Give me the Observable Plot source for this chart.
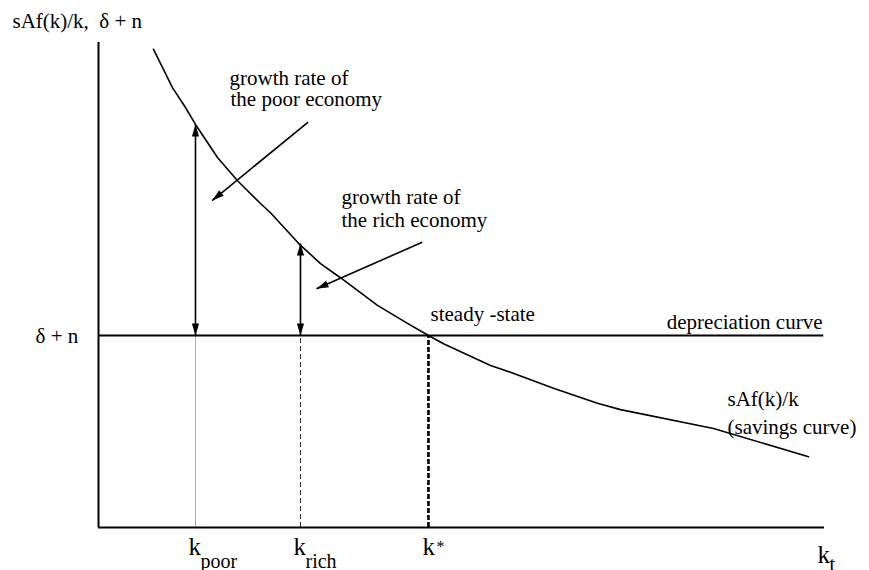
<!DOCTYPE html>
<html>
<head>
<meta charset="utf-8">
<script src="https://cdn.jsdelivr.net/npm/d3@7"></script>
<script src="https://cdn.jsdelivr.net/npm/@observablehq/plot@0.6"></script>
<style>
  html, body { margin: 0; padding: 0; background: #fff; }
  svg { display: block; }
  svg text { font-family: "Liberation Serif", "Times New Roman", "DejaVu Serif", serif !important; }
</style>
</head>
<body>
<div id="chart"></div>
<script>
// ---- data (abstract units: k on x 0..100, rate on y 0..100) ----
const curveK = [7.58, 10.19, 11.98, 13.36, 16.39, 19.15, 22.31, 23.69, 27.55, 30.58, 33.33, 38.43, 42.56, 45.45, 47.52, 54.0, 56.75, 62.67, 68.73, 71.9, 84.71, 97.8];
const curveS = [98.6, 90.7, 86.6, 83.1, 76.3, 71.5, 66.8, 64.9, 58.6, 54.4, 51.5, 45.8, 42.1, 39.6, 37.9, 33.4, 32.0, 28.7, 25.6, 24.3, 20.4, 14.6];
const depreciation = 39.6;
const axisEnd = 100;
const deprEnd = 99.9;
const kNames = ["poor", "rich", "star"];
const kValues = [13.36, 27.82, 45.45];
const growthTops = [83.1, 58.56];      // savings curve at k_poor, k_rich
// pointer arrows (from label to region)
const pointerFromX = [28.88, 44.59];
const pointerFromY = [83.57, 58.82];
const pointerToX = [15.66, 30.03];
const pointerToY = [67.42, 49.22];

// labels
const startText = ["sAf(k)/k,  δ + n", "δ + n", "growth rate of", "the poor economy", "growth rate of", "the rich economy", "steady -state", "sAf(k)/k", "(savings curve)", "k", "k", "k", "k"];
const startX = [-11.85, -8.68, 18.04, 18.18, 33.47, 33.47, 45.73, 86.64, 86.64, 12.40, 26.86, 44.63, 99.04];
const startY = [102.89, 38.14, 91.34, 86.95, 66.8, 61.86, 42.68, 24.95, 19.38, -5.77, -5.77, -5.77, -7.42];
const startSize = [21, 21, 21, 21, 21, 21, 21, 21, 21, 25, 25, 25, 25];
const subText = ["poor", "rich", "*", "t"];
const subX = [14.05, 28.51, 46.56, 100.69];
const subY = [-8.25, -8.25, -4.95, -8.9];
const subSize = [20, 20, 16, 20];
const endText = ["depreciation curve"];
const endX = [99.72];
const endY = [41.03];

// ---- layout ----
const W = 869, H = 570, mL = 98, mR = 45, mT = 42, mB = 43;
const pxX = (W - mL - mR) / 100, pxY = (H - mT - mB) / 100;
const angle = (x1, y1, x2, y2) => {
  const dx = (x2 - x1) * pxX, dy = -(y2 - y1) * pxY;
  return Math.atan2(dx, -dy) * 180 / Math.PI;
};
const head = {
  draw(ctx) {
    ctx.moveTo(0, 0);
    ctx.lineTo(-3.6, 12);
    ctx.lineTo(3.6, 12);
    ctx.closePath();
  }
};

const curve = curveK.map((k, i) => ({k, s: curveS[i]}));
const kLines = kNames.map((n, i) => ({n, k: kValues[i]}));
const growth = growthTops.map((t, i) => ({k: kValues[i], lo: depreciation, hi: t}));
const pointers = pointerFromX.map((x, i) => ({x1: x, y1: pointerFromY[i], x2: pointerToX[i], y2: pointerToY[i]}));
const heads = [
  ...growth.map(g => ({x: g.k, y: g.hi, r: 0})),
  ...growth.map(g => ({x: g.k, y: g.lo, r: 180})),
  ...pointers.map(p => ({x: p.x2, y: p.y2, r: angle(p.x1, p.y1, p.x2, p.y2)}))
];
const startLabels = startText.map((t, i) => ({t, x: startX[i], y: startY[i], s: startSize[i]}));
const subLabels = subText.map((t, i) => ({t, x: subX[i], y: subY[i], s: subSize[i]}));
const endLabels = endText.map((t, i) => ({t, x: endX[i], y: endY[i]}));

const font = "Liberation Serif, Times New Roman, DejaVu Serif, serif";

const chart = Plot.plot({
  width: W, height: H,
  marginLeft: mL, marginRight: mR, marginTop: mT, marginBottom: mB,
  x: {domain: [0, 100], axis: null},
  y: {domain: [0, 100], axis: null},
  style: {background: "#fff", overflow: "visible"},
  marks: [
    // drop lines from depreciation line to k axis
    Plot.ruleX(kLines.filter(d => d.n === "poor"), {x: "k", y1: 0, y2: depreciation, stroke: "#aaa", strokeWidth: 1}),
    Plot.ruleX(kLines.filter(d => d.n === "rich"), {x: "k", y1: 0, y2: depreciation, stroke: "#222", strokeWidth: 1, strokeDasharray: "5,3"}),
    Plot.ruleX(kLines.filter(d => d.n === "star"), {x: "k", y1: 0, y2: depreciation, stroke: "#000", strokeWidth: 2.6, strokeDasharray: "5,2"}),
    // axes
    Plot.ruleX([0], {y1: 0, y2: axisEnd, stroke: "#000", strokeWidth: 2}),
    Plot.ruleY([0], {x1: 0, x2: axisEnd, stroke: "#000", strokeWidth: 2}),
    // depreciation line
    Plot.ruleY([depreciation], {x1: 0, x2: deprEnd, stroke: "#000", strokeWidth: 2}),
    // savings curve
    Plot.line(curve, {x: "k", y: "s", stroke: "#000", strokeWidth: 1.6}),
    // growth double arrows
    Plot.link(growth, {x1: "k", y1: "lo", x2: "k", y2: "hi", stroke: "#000", strokeWidth: 1.6}),
    // pointer arrows
    Plot.link(pointers, {x1: "x1", y1: "y1", x2: "x2", y2: "y2", stroke: "#000", strokeWidth: 1.6}),
    Plot.dot(heads, {x: "x", y: "y", rotate: "r", symbol: head, r: 5, fill: "#000", stroke: "none"}),
    // labels
    Plot.text(startLabels, {x: "x", y: "y", text: "t", fontSize: "s", fontFamily: font, textAnchor: "start", lineAnchor: "bottom", fill: "#000"}),
    Plot.text(subLabels, {x: "x", y: "y", text: "t", fontSize: "s", fontFamily: font, textAnchor: "start", lineAnchor: "bottom", fill: "#000"}),
    Plot.text(endLabels, {x: "x", y: "y", text: "t", fontSize: 21, fontFamily: font, textAnchor: "end", lineAnchor: "bottom", fill: "#000"})
  ]
});
document.getElementById("chart").appendChild(chart);
</script>
</body>
</html>
